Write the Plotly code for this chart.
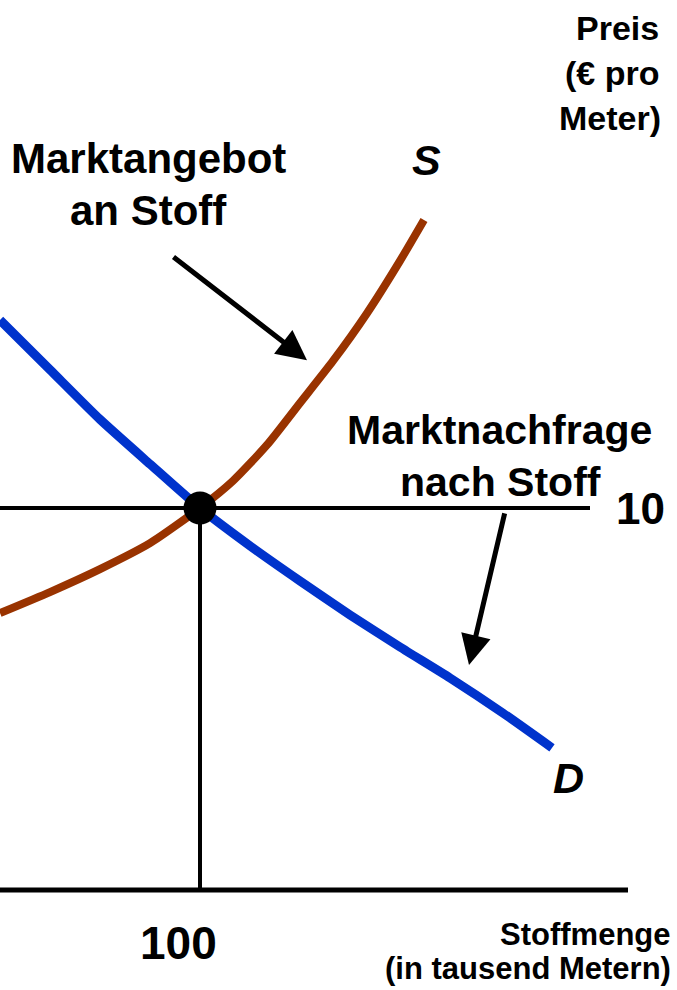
import plotly.graph_objects as go

# ---- data (quantity in thousand metres, price in € per metre) ----
supply_q = [0, 25, 50, 75, 100, 116.5, 133.5, 150, 166.5, 183.5, 200, 212]
supply_p = [7.25, 7.80, 8.40, 9.08, 10, 10.71, 11.65, 12.75, 13.85, 15.10, 16.47, 17.54]

demand_q = [0, 25, 50, 75, 100, 125, 150, 175, 200, 225, 251.5, 276]
demand_p = [14.92, 13.62, 12.32, 11.15, 10, 9.01, 8.09, 7.20, 6.36, 5.55, 4.63, 3.72]

eq_q = [100]
eq_p = [10]

axis_q_end = 314        # end of the quantity axis line
price_line_end = 295    # end of the horizontal price guide line

tick_q_label = "100"
tick_p_label = "10"

W, H = 677, 990
FONT = "Liberation Sans, Arial, Helvetica, sans-serif"

fig = go.Figure()

# horizontal guide at equilibrium price
fig.add_trace(go.Scatter(x=[0, price_line_end], y=[eq_p[0], eq_p[0]], mode="lines",
                         line=dict(color="black", width=4), hoverinfo="skip"))
# vertical guide at equilibrium quantity
fig.add_trace(go.Scatter(x=[eq_q[0], eq_q[0]], y=[0, eq_p[0]], mode="lines",
                         line=dict(color="black", width=4), hoverinfo="skip"))
# quantity axis
fig.add_trace(go.Scatter(x=[0, axis_q_end], y=[0, 0], mode="lines",
                         line=dict(color="black", width=5), hoverinfo="skip"))
# supply
fig.add_trace(go.Scatter(x=supply_q, y=supply_p, mode="lines",
                         line=dict(color="#993300", width=8, shape="spline", smoothing=0.6)))
# demand
fig.add_trace(go.Scatter(x=demand_q, y=demand_p, mode="lines",
                         line=dict(color="#0033CC", width=9, shape="spline", smoothing=0.6)))
# equilibrium
fig.add_trace(go.Scatter(x=eq_q, y=eq_p, mode="markers",
                         marker=dict(color="black", size=33)))

def px(x):
    return x / W

def py(y):
    return 1 - y / H

def label(text, x, y, size, xanchor="center", italic=False):
    t = f"<b>{text}</b>"
    if italic:
        t = f"<i>{t}</i>"
    fig.add_annotation(text=t, x=px(x), y=py(y), xref="paper", yref="paper",
                       xanchor=xanchor, yanchor="middle", showarrow=False,
                       font=dict(family=FONT, size=size, color="black"))

label("Preis", 661, 28, 34, xanchor="right")
label("(€ pro", 661, 73, 34, xanchor="right")
label("Meter)", 663, 118, 34, xanchor="right")
label("Marktangebot", 148, 158, 42)
label("an Stoff", 148, 210, 42)
label("S", 426, 160, 43, italic=True)
label("Marktnachfrage", 499, 430, 41)
label("nach Stoff", 500, 482, 41)
label(tick_p_label, 640, 508, 44)
label("D", 568, 778, 43, italic=True)
label(tick_q_label, 178, 943, 46)
label("Stoffmenge", 673, 934, 31, xanchor="right")
label("(in tausend Metern)", 673, 968, 31, xanchor="right")

# arrows
fig.add_annotation(x=153.5, y=13.87, ax=86, ay=16.60, xref="x", yref="y",
                   axref="x", ayref="y", showarrow=True, text="",
                   arrowhead=2, arrowsize=1.2, arrowwidth=5, arrowcolor="black")
fig.add_annotation(x=234.5, y=5.89, ax=252.5, ay=9.90, xref="x", yref="y",
                   axref="x", ayref="y", showarrow=True, text="",
                   arrowhead=2, arrowsize=1.2, arrowwidth=5, arrowcolor="black")

fig.update_xaxes(range=[0, W / 2], visible=False, fixedrange=True)
fig.update_yaxes(range=[(890 - H) / 38.2, 890 / 38.2], visible=False, fixedrange=True)
fig.update_layout(width=W, height=H, margin=dict(l=0, r=0, t=0, b=0), autosize=False,
                  showlegend=False, plot_bgcolor="white", paper_bgcolor="white")

fig.write_html(
    "out.html",
    config={"displayModeBar": False},
    post_script="document.body.style.margin='0';document.body.style.overflow='hidden';",
)
